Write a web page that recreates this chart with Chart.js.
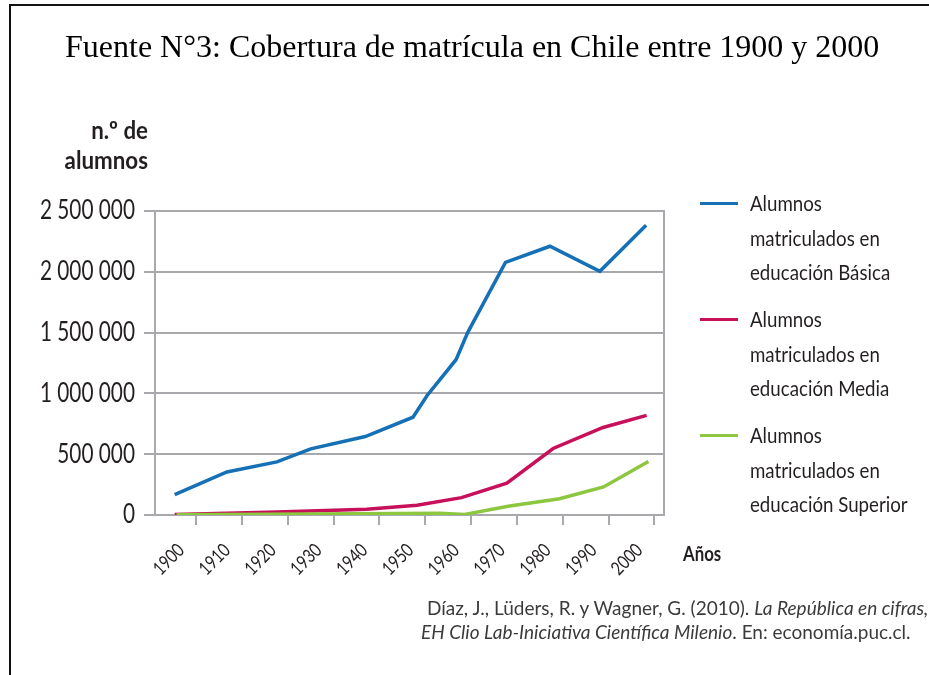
<!DOCTYPE html>
<html>
<head>
<meta charset="utf-8">
<script src="https://cdn.jsdelivr.net/npm/chart.js@4.4.0/dist/chart.umd.min.js"></script>
<style>
  html, body { margin: 0; padding: 0; background: #fff; }
  #page { position: relative; width: 929px; height: 675px; overflow: hidden; background: #fff; }
  #frame { position: absolute; left: 9px; top: 4px; width: 940px; height: 700px;
           border-left: 2.5px solid #111; border-top: 2.5px solid #111; }
  #chartBox { position: absolute; left: 0; top: 0; width: 929px; height: 675px; }
  .narrow { font-family: Lato, 'Open Sans', sans-serif; color: #231f20; }
  #title { position: absolute; left: 65px; top: 28px; line-height: 36px; font-size: 32px; white-space: nowrap;
           font-family: 'Liberation Serif', 'Times New Roman', serif; color: #000; }
  #yTitle { position: absolute; left: 0; width: 148px; top: 115px; text-align: right; font-size: 24px; line-height: 30px;
            transform: scaleX(0.93); transform-origin: 148px 0; }
  #xTitle { position: absolute; left: 683px; top: 539px; font-size: 21px; line-height: 28px;
            transform: scaleX(0.8); transform-origin: 0 0; }
  #legend { position: absolute; left: 0; top: 0; }
  .entry { position: absolute; left: 700px; }
  .swatch { position: absolute; left: 0; top: 16px; width: 38px; height: 3px; }
  .entry .txt { position: absolute; left: 50px; top: 0; font-size: 21px; line-height: 34.5px; white-space: nowrap;
                transform: scaleX(0.89); transform-origin: 0 0; }
  .src { position: absolute; white-space: nowrap; font-family: Lato, 'Open Sans', sans-serif; font-size: 19px; line-height: 24px; color: #3b3b3b; }
</style>
</head>
<body>
<div id="page">
  <div id="chartBox"><canvas id="chart"></canvas></div>
  <div id="frame"></div>
  <div id="title">Fuente N°3: Cobertura de matrícula en Chile entre 1900 y 2000</div>
  <div id="yTitle" class="narrow"><b>n.º de<br>alumnos</b></div>
  <div id="xTitle" class="narrow"><b>Años</b></div>
  <div id="legend" class="narrow"></div>
  <div class="src" style="left:427px; top:596px;">Díaz, J., Lüders, R. y Wagner, G. (2010). <i>La República en cifras,</i></div>
  <div class="src" style="left:421px; top:620px;"><i>EH Clio Lab-Iniciativa Científica Milenio</i>. En: economía.puc.cl.</div>
</div>
<script>
// ---------- DATA ----------
const years = [1900, 1910, 1920, 1930, 1940, 1950, 1960, 1970, 1980, 1990, 2000];

const basicaX = [1895.3, 1906.7, 1917.6, 1925.0, 1936.9, 1947.3, 1950.4, 1956.7, 1959.3, 1967.5, 1977.2, 1988.1, 1998.2];
const basicaY = [167000, 354000, 437000, 544000, 645000, 804000, 983000, 1277000, 1504000, 2078000, 2210000, 2004000, 2383000];

const mediaX = [1895.3, 1906.7, 1917.6, 1937.2, 1948.2, 1957.9, 1967.8, 1977.9, 1988.8, 1998.3];
const mediaY = [5000, 14000, 25000, 47000, 80000, 143000, 262000, 547000, 720000, 819000];

const superiorX = [1895.7, 1953.2, 1958.6, 1968.4, 1979.3, 1988.9, 1998.7];
const superiorY = [3000, 14000, 5000, 74000, 134000, 231000, 440000];

const seriesNames = [
  ["Alumnos", "matriculados en", "educación Básica"],
  ["Alumnos", "matriculados en", "educación Media"],
  ["Alumnos", "matriculados en", "educación Superior"]
];
const seriesColors = ["#1570b6", "#c8105a", "#8dc63f"];

// ---------- HELPERS ----------
function pts(xs, ys) {
  return xs.map((x, i) => ({ x: x, y: ys[i] }));
}

function spaced(v) {
  return String(v).replace(/\B(?=(\d{3})+(?!\d))/g, " ");
}

const tickFont = "Lato, 'Open Sans', sans-serif";
const gridGray = "#a7a9ac";

// no condensed font installed, so squeeze canvas text sideways
const squeezeText = {
  id: "squeezeText",
  beforeDraw(c) {
    let ctx = c.ctx;
    if (ctx._squeezed) return;
    let fill = ctx.fillText.bind(ctx);
    ctx.fillText = function (text, x, y) {
      ctx.save();
      ctx.translate(x, y);
      ctx.scale(0.8, 1);
      fill(text, 0, 0);
      ctx.restore();
    };
    ctx._squeezed = true;
  }
};

let datasets = [basicaY, mediaY, superiorY].map((ys, i) => ({
  label: seriesNames[i].join(" "),
  data: pts([basicaX, mediaX, superiorX][i], ys),
  borderColor: seriesColors[i],
  backgroundColor: seriesColors[i],
  borderWidth: 3.5,
  pointRadius: 0,
  tension: 0,
  order: 2 - i
}));

// ---------- CHART ----------
let chart = new Chart(document.getElementById("chart"), {
  type: "line",
  data: { datasets: datasets },
  plugins: [squeezeText],
  options: {
    responsive: true,
    maintainAspectRatio: false,
    animation: false,
    devicePixelRatio: 1,
    layout: { padding: { left: 0, top: 211, right: 265, bottom: 0 } },
    plugins: {
      legend: { display: false },
      title: { display: false },
      tooltip: { enabled: false }
    },
    scales: {
      x: {
        type: "linear",
        min: 1891,
        max: 2002.1,
        afterBuildTicks: s => { s.ticks = years.map(v => ({ value: v })); },
        afterFit: s => { s.height = 160; },
        grid: { drawOnChartArea: false, drawTicks: true, tickLength: 10, color: gridGray, lineWidth: 2 },
        border: { display: true, color: gridGray, width: 2 },
        ticks: {
          autoSkip: false,
          minRotation: 45,
          maxRotation: 45,
          labelOffset: -15,
          padding: 14,
          color: "#231f20",
          font: { family: tickFont, size: 19 },
          callback: v => String(v)
        }
      },
      y: {
        min: 0,
        max: 2500000,
        afterFit: s => { s.width = 155; },
        grid: { color: gridGray, lineWidth: 2, drawTicks: true, tickLength: 11 },
        border: { display: true, color: gridGray, width: 2 },
        ticks: {
          stepSize: 500000,
          padding: 9,
          color: "#231f20",
          font: { family: tickFont, size: 26 },
          callback: v => spaced(v)
        }
      },
      y2: {
        position: "right",
        min: 0,
        max: 2500000,
        afterFit: s => { s.width = 0; },
        grid: { display: false },
        border: { display: true, color: gridGray, width: 2 },
        ticks: { display: false }
      }
    }
  }
});

// ---------- LEGEND ----------
let legend = document.getElementById("legend");
seriesNames.forEach((lines, i) => {
  let e = document.createElement("div");
  e.className = "entry";
  e.style.top = (186 + i * 116) + "px";
  e.innerHTML = '<div class="swatch" style="background:' + seriesColors[i] + '"></div>' +
                '<div class="txt">' + lines.join("<br>") + "</div>";
  legend.appendChild(e);
});
</script>
</body>
</html>
